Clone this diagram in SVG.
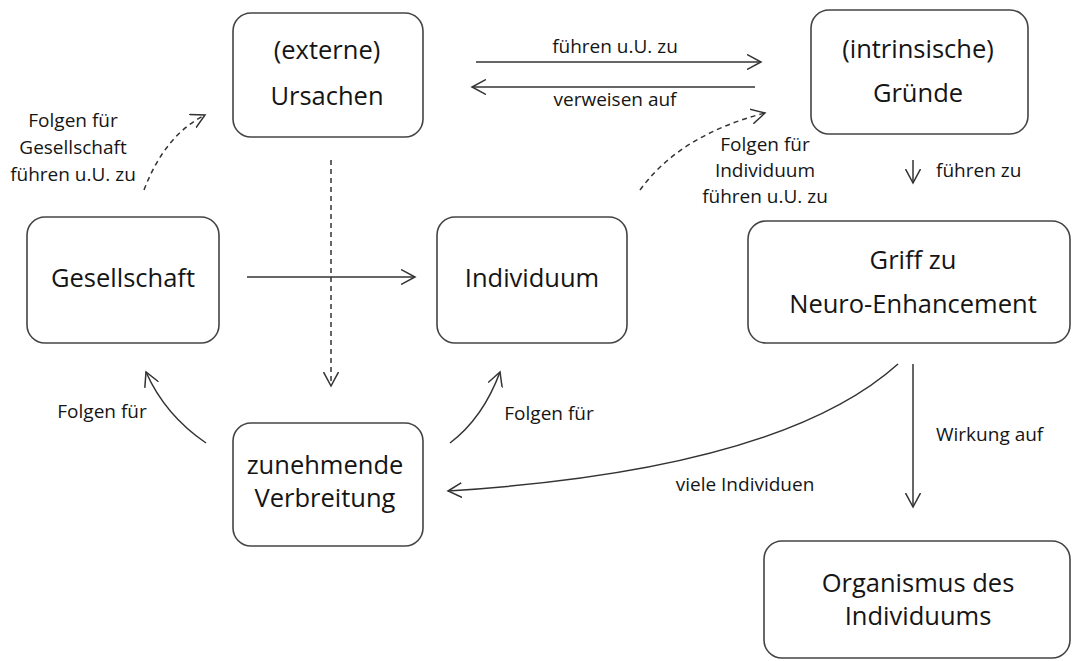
<svg xmlns="http://www.w3.org/2000/svg" width="1073" height="661" viewBox="0 0 1073 661">
<defs>
<style>
.box{fill:#fff;stroke:#444;stroke-width:1.6}
.nt{font-family:"Open Sans","Noto Sans","Liberation Sans",sans-serif;font-size:25.5px;fill:#151515;text-anchor:middle}
.lt{font-family:"Open Sans","Noto Sans","Liberation Sans",sans-serif;font-size:19px;fill:#151515}
.c{fill:none;stroke:#333;stroke-width:1.5}
.d{stroke-dasharray:5 4}
</style>
<marker id="ah" viewBox="0 0 16 16" refX="14" refY="8" markerWidth="16" markerHeight="16" markerUnits="userSpaceOnUse" orient="auto">
<path d="M0,0.5 L14,8 L0,15.5" fill="none" stroke="#333" stroke-width="1.5"/>
</marker>
</defs>
<rect width="1073" height="661" fill="#fff"/>

<g id="connectors">
<path class="c" d="M476,62 L761,62" marker-end="url(#ah)"/>
<path class="c" d="M755,87 L472,87" marker-end="url(#ah)"/>
<path class="c d" d="M144,190 Q165,135 205,115" marker-end="url(#ah)"/>
<path class="c d" d="M640,190 Q680,135 765,113" marker-end="url(#ah)"/>
<path class="c d" d="M331,160 L331,386" marker-end="url(#ah)"/>
<path class="c" d="M247,277 L415,277" marker-end="url(#ah)"/>
<path class="c" d="M913,160 L913,183" marker-end="url(#ah)"/>
<path class="c" d="M206,443 Q165,415 146,372" marker-end="url(#ah)"/>
<path class="c" d="M450,443 Q483,418 500,372" marker-end="url(#ah)"/>
<path class="c" d="M898,364 Q780,470 448,491" marker-end="url(#ah)"/>
<path class="c" d="M913,364 L913,507" marker-end="url(#ah)"/>
</g>

<g id="labels">
<text class="lt" x="615" y="53" text-anchor="middle">führen u.U. zu</text>
<text class="lt" x="615" y="106" text-anchor="middle">verweisen auf</text>
<text class="lt" text-anchor="middle"><tspan x="73" y="127">Folgen für</tspan><tspan x="73" y="154">Gesellschaft</tspan><tspan x="73" y="181">führen u.U. zu</tspan></text>
<text class="lt" text-anchor="middle"><tspan x="765" y="151">Folgen für</tspan><tspan x="765" y="177">Individuum</tspan><tspan x="765" y="203">führen u.U. zu</tspan></text>
<text class="lt" x="936" y="177">führen zu</text>
<text class="lt" x="102" y="418" text-anchor="middle">Folgen für</text>
<text class="lt" x="549" y="420" text-anchor="middle">Folgen für</text>
<text class="lt" x="936" y="441">Wirkung auf</text>
<text class="lt" x="745" y="491" text-anchor="middle">viele Individuen</text>
</g>

<g id="node-ursachen">
<rect class="box" x="233" y="13" width="190" height="124" rx="18"/>
<text class="nt"><tspan x="327" y="59">(externe)</tspan><tspan x="327" y="105">Ursachen</tspan></text>
</g>
<g id="node-gruende">
<rect class="box" x="811" y="10" width="217" height="124" rx="18"/>
<text class="nt"><tspan x="918" y="58">(intrinsische)</tspan><tspan x="918" y="102">Gründe</tspan></text>
</g>
<g id="node-gesellschaft">
<rect class="box" x="27" y="217" width="192" height="126" rx="18"/>
<text class="nt" x="123" y="287">Gesellschaft</text>
</g>
<g id="node-individuum">
<rect class="box" x="437" y="217" width="190" height="126" rx="18"/>
<text class="nt" x="532" y="287">Individuum</text>
</g>
<g id="node-griff">
<rect class="box" x="748" y="221" width="322" height="122" rx="18"/>
<text class="nt"><tspan x="913" y="269">Griff zu</tspan><tspan x="913" y="313">Neuro-Enhancement</tspan></text>
</g>
<g id="node-verbreitung">
<rect class="box" x="233" y="423" width="190" height="123" rx="18"/>
<text class="nt"><tspan x="325" y="474">zunehmende</tspan><tspan x="325" y="507">Verbreitung</tspan></text>
</g>
<g id="node-organismus">
<rect class="box" x="764" y="541" width="306" height="117" rx="18"/>
<text class="nt"><tspan x="918" y="592">Organismus des</tspan><tspan x="918" y="625">Individuums</tspan></text>
</g>
</svg>
